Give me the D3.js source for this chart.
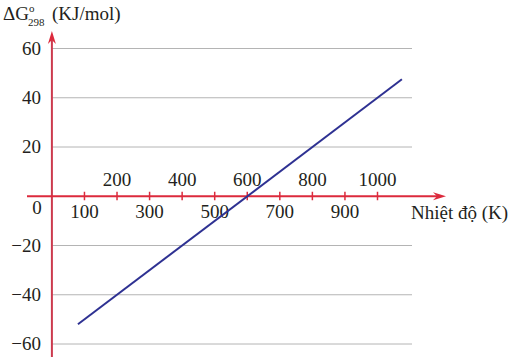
<!DOCTYPE html>
<html><head><meta charset="utf-8">
<script src="https://cdn.jsdelivr.net/npm/d3@7"></script>
<style>
html,body{margin:0;padding:0;background:#fff;}
svg text{font-family:"Liberation Serif","DejaVu Serif",serif;fill:#231f20;}
</style></head>
<body><svg id="c" width="514" height="357"></svg>
<script>
// Data
const temperatures = [80, 1075];          // K
const deltaG = [-52, 47.5];               // kJ/mol
const yTicks = [-60, -40, -20, 20, 40, 60];
const xTicksUpper = [200, 400, 600, 800, 1000];
const xTicksLower = [100, 300, 500, 700, 900];
const xTicksAll = [100, 200, 300, 400, 500, 600, 700, 800, 900, 1000];

const svg = d3.select("#c");
const x = d3.scaleLinear().domain([0, 1000]).range([51.9, 377.5]);
const y = d3.scaleLinear().domain([-60, 60]).range([344, 48.5]);

const red = "#dc2a3c";
const fs = 19;
const ff = "'Liberation Serif','Times New Roman','DejaVu Serif',serif";

// gridlines
svg.append("g").selectAll("line").data(yTicks).join("line")
  .attr("x1", x(0)).attr("x2", 412)
  .attr("y1", d => y(d)).attr("y2", d => y(d))
  .attr("stroke", "#b4b4b4").attr("stroke-width", 1);

// y tick labels
svg.append("g").selectAll("text").data(yTicks).join("text")
  .attr("x", 41).attr("y", d => y(d) + 6)
  .attr("text-anchor", "end").attr("font-size", fs).attr("font-family", ff)
  .text(d => d < 0 ? "\u2212" + Math.abs(d) : d);

// "0" label
svg.append("text").attr("x", 37).attr("y", y(0) + 18)
  .attr("text-anchor", "middle").attr("font-size", fs).attr("font-family", ff).text("0");

// y axis
svg.append("line").attr("x1", x(0)).attr("x2", x(0))
  .attr("y1", 357).attr("y2", 40)
  .attr("stroke", "#cc3a4e").attr("stroke-width", 2);
svg.append("path")
  .attr("d", `M${x(0)},31 L${x(0)-4},44 L${x(0)},40 L${x(0)+4},44 Z`)
  .attr("fill", red);

// x axis
svg.append("line").attr("x1", 27).attr("x2", 438)
  .attr("y1", y(0)).attr("y2", y(0))
  .attr("stroke", red).attr("stroke-width", 2);
svg.append("path")
  .attr("d", `M446,${y(0)} L433,${y(0)-4} L437,${y(0)} L433,${y(0)+4} Z`)
  .attr("fill", red);

// x ticks
svg.append("g").selectAll("line").data(xTicksAll).join("line")
  .attr("x1", d => x(d)).attr("x2", d => x(d))
  .attr("y1", y(0) - 4.5).attr("y2", y(0) + 4)
  .attr("stroke", red).attr("stroke-width", 1.5);

// x labels
svg.append("g").selectAll("text").data(xTicksUpper).join("text")
  .attr("x", d => x(d)).attr("y", y(0) - 10)
  .attr("text-anchor", "middle").attr("font-size", fs).attr("font-family", ff).text(d => d);
svg.append("g").selectAll("text").data(xTicksLower).join("text")
  .attr("x", d => x(d)).attr("y", y(0) + 22)
  .attr("text-anchor", "middle").attr("font-size", fs).attr("font-family", ff).text(d => d);

// axis titles
svg.append("text").attr("x", 411).attr("y", y(0) + 23)
  .attr("font-size", fs).attr("font-family", ff).text("Nhiệt độ (K)");

svg.append("text").attr("x", 3).attr("y", 20).attr("font-size", fs).attr("font-family", ff).text("\u0394G");
svg.append("text").attr("x", 29).attr("y", 12).attr("font-size", 11).attr("font-family", ff).text("o");
svg.append("text").attr("x", 28).attr("y", 26).attr("font-size", 11).attr("font-family", ff).text("298");
svg.append("text").attr("x", 52).attr("y", 20).attr("font-size", fs).attr("font-family", ff).text("(KJ/mol)");

// line
const pts = temperatures.map((d, i) => [d, deltaG[i]]);
svg.append("path").datum(pts)
  .attr("d", d3.line().x(d => x(d[0])).y(d => y(d[1])))
  .attr("fill", "none").attr("stroke", "#2e3192").attr("stroke-width", 2);
</script></body></html>
